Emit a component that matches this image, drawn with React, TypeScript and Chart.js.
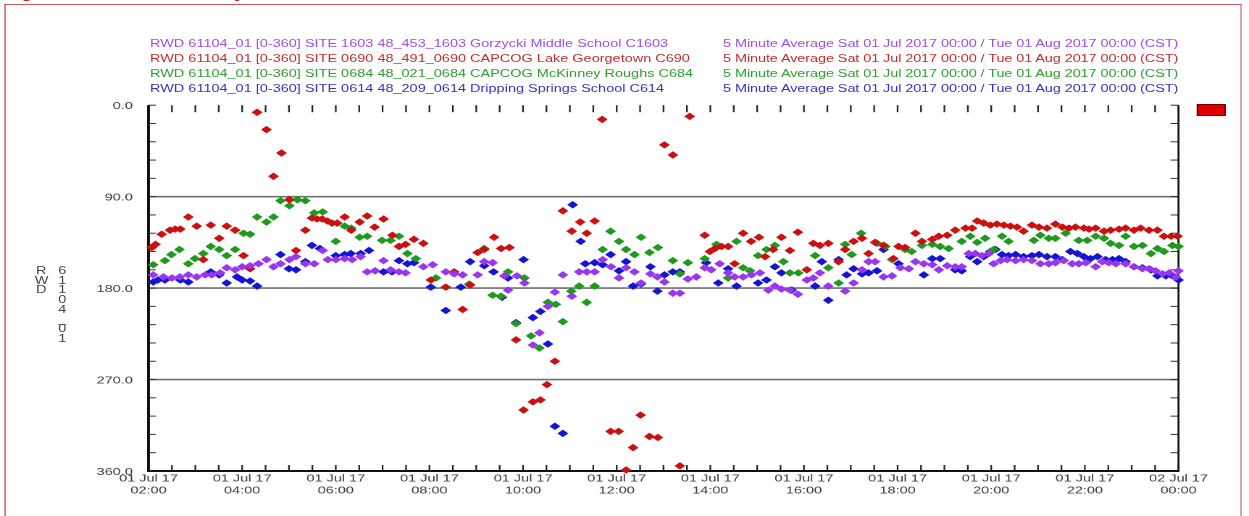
import React, { useEffect, useRef } from 'react';
import { Chart, registerables } from 'chart.js';

Chart.register(...registerables);

// ---------- data ----------
const SERIES_LABELS = [
  'RWD 61104_01 [0-360] SITE 1603 48_453_1603 Gorzycki Middle School C1603',
  'RWD 61104_01 [0-360] SITE 0690 48_491_0690 CAPCOG Lake Georgetown C690',
  'RWD 61104_01 [0-360] SITE 0684 48_021_0684 CAPCOG McKinney Roughs C684',
  'RWD 61104_01 [0-360] SITE 0614 48_209_0614 Dripping Springs School C614',
];
const PERIOD_LABEL = '5 Minute Average Sat 01 Jul 2017 00:00 / Tue 01 Aug 2017 00:00 (CST)';
const SERIES_COLORS = ['#9a35f0', '#cc1010', '#1f9a1f', '#1414d4'];
const TEXT_COLORS = ['#a050e0', '#c03030', '#30a030', '#3535c0'];
const Y_AXIS_NAME = 'RWD';
const Y_AXIS_ID = '61104_01';
const CAPTION = 'Figure 7: RWD Data Hourly';
const Y_MIN = 0;
const Y_MAX = 360;
const Y_STEP = 90;
const Y_MINOR_STEP = 18;
const GRID_VALUES = [90, 180, 270];
const X_MIN = 2; // hours after 01 Jul 17 00:00
const X_MAX = 24;
const X_STEP = 2;
const X_MINOR_STEP = 0.5;

// [hour, degrees]
const purplePoints: [number, number][] = [
  [2.10,167],[2.32,169],[2.50,170],[2.67,169],[2.85,167],[3.03,169],[3.21,167],[3.35,167],[3.53,165],[3.67,160],
  [3.85,162],[4.00,159],[4.17,158],[4.35,156],[4.52,152],[4.67,159],[4.82,156],[5.01,152],[5.15,149],[5.35,156],
  [5.54,156],[5.72,143],[5.83,152],[6.00,152],[6.19,151],[6.35,152],[6.53,149],[6.67,164],[6.84,163],[7.02,153],
  [7.17,162],[7.35,164],[7.49,165],[7.87,159],[8.07,157],[8.35,164],[8.53,166],[8.71,167],[9.03,167],[9.17,154],
  [9.35,155],[9.60,168],[9.68,182],[9.87,168],[10.03,175],[10.21,236],[10.35,224],[10.53,198],[10.68,184],[10.85,167],[11.04,188],
  [11.20,164],[11.36,164],[11.53,164],[11.70,152],[11.88,159],[12.05,170],[12.20,160],[12.38,164],[12.52,175],[12.72,166],
  [12.87,169],[13.02,174],[13.20,185],[13.35,185],[13.52,171],[13.70,169],[13.88,160],[14.02,162],[14.20,156],[14.38,165],
  [14.52,169],[14.70,169],[14.88,167],[15.06,165],[15.24,182],[15.38,178],[15.52,181],[15.70,182],[15.87,186],[16.06,172],
  [16.20,170],[16.34,165],[16.52,178],[16.88,183],[17.06,175],[17.24,162],[17.38,154],[17.52,154],[17.70,169],[17.88,168],
  [18.06,160],[18.24,161],[18.38,154],[18.56,156],[18.74,157],[18.88,162],[19.06,158],[19.23,159],[19.37,159],[19.52,146],
  [19.66,146],[19.80,148],[19.95,146],[20.05,156],[20.20,153],[20.34,152],[20.52,153],[20.69,152],[20.87,153],[21.05,156],
  [21.23,156],[21.37,155],[21.55,153],[21.73,156],[21.87,156],[22.02,155],[22.23,159],[22.37,154],[22.51,155],[22.66,156],
  [22.87,156],[23.05,159],[23.23,161],[23.37,161],[23.51,163],[23.66,166],[23.80,165],[23.94,169],[24.00,163],
];

const redPoints: [number, number][] = [
  [2.07,140],[2.15,137],[2.28,127],[2.46,123],[2.57,122],[2.68,122],[2.85,110],[3.03,119],[3.17,152],[3.33,118],
  [3.51,131],[3.67,119],[3.85,123],[4.03,148],[4.17,161],[4.32,7],[4.52,24],[4.67,70],[4.84,47],[5.01,93],
  [5.15,143],[5.35,123],[5.49,111],[5.60,112],[5.71,112],[5.82,114],[5.92,116],[6.03,116],[6.19,110],[6.33,123],
  [6.51,115],[6.67,109],[6.83,120],[7.02,112],[7.21,128],[7.35,139],[7.49,137],[7.67,132],[7.87,136],[8.03,172],
  [8.35,179],[8.53,164],[8.71,201],[8.87,177],[9.03,145],[9.17,142],[9.38,130],[9.53,141],[9.71,140],[9.85,231],
  [10.01,300],[10.21,292],[10.37,290],[10.51,275],[10.68,252],[10.85,104],[11.04,124],[11.22,115],[11.36,126],[11.53,114],
  [11.69,14],[11.87,321],[12.04,321],[12.20,359],[12.35,337],[12.51,305],[12.70,326],[12.88,327],[13.02,39],[13.20,49],
  [13.35,355],[13.56,11],[13.88,128],[13.99,144],[14.10,141],[14.24,139],[14.38,139],[14.52,156],[14.70,126],[14.87,134],
  [15.04,130],[15.17,149],[15.34,142],[15.52,130],[15.70,143],[15.87,125],[16.06,162],[16.20,136],[16.34,138],[16.52,136],
  [16.74,154],[16.88,142],[17.06,134],[17.24,131],[17.38,146],[17.52,135],[17.70,138],[17.91,151],[18.02,139],[18.16,140],
  [18.38,126],[18.52,134],[18.74,132],[18.88,129],[19.06,128],[19.23,123],[19.45,121],[19.59,121],[19.70,114],[19.84,116],
  [19.98,118],[20.12,117],[20.27,118],[20.41,119],[20.55,120],[20.69,124],[20.87,118],[21.02,120],[21.19,121],[21.37,117],
  [21.52,120],[21.66,121],[21.80,120],[21.98,121],[22.09,122],[22.23,121],[22.41,124],[22.55,123],[22.73,122],[22.87,121],
  [23.05,123],[23.19,121],[23.37,123],[23.55,123],[23.69,129],[23.84,129],[23.98,129],
];

const greenPoints: [number, number][] = [
  [2.10,157],[2.35,153],[2.49,147],[2.66,142],[2.85,156],[2.99,151],[3.17,146],[3.33,139],[3.51,142],[3.67,148],
  [3.85,142],[4.03,126],[4.17,127],[4.32,110],[4.52,115],[4.67,110],[4.82,94],[5.01,99],[5.18,93],[5.35,94],
  [5.54,106],[5.72,105],[6.00,134],[6.19,119],[6.33,121],[6.51,130],[6.67,129],[6.99,133],[7.17,133],[7.35,129],
  [7.53,146],[7.71,151],[8.14,170],[8.85,176],[9.17,141],[9.35,187],[9.53,188],[9.68,164],[9.85,215],[10.03,170],
  [10.17,227],[10.35,239],[10.53,194],[10.70,196],[10.85,213],[11.03,183],[11.20,178],[11.36,194],[11.53,178],[11.70,142],
  [11.87,124],[12.05,134],[12.20,142],[12.38,147],[12.52,130],[12.70,145],[12.88,140],[13.20,153],[13.35,166],[13.52,155],
  [13.88,151],[14.13,137],[14.38,170],[14.56,134],[14.70,160],[14.85,163],[15.02,148],[15.20,142],[15.38,138],[15.56,154],
  [15.70,165],[15.88,165],[16.24,148],[16.52,160],[16.74,175],[16.88,137],[17.02,147],[17.22,126],[17.56,136],[17.74,139],
  [17.88,152],[18.16,142],[18.30,144],[18.52,138],[18.74,137],[18.91,139],[19.09,141],[19.37,134],[19.55,129],[19.70,135],
  [19.87,131],[20.05,142],[20.23,129],[20.37,134],[20.91,133],[21.05,128],[21.23,131],[21.37,131],[21.59,126],[21.87,133],
  [22.05,133],[22.23,129],[22.41,131],[22.55,136],[22.73,138],[22.87,129],[23.05,139],[23.23,138],[23.41,146],[23.55,141],
  [23.69,144],[23.87,138],[24.00,139],
];

const bluePoints: [number, number][] = [
  [2.10,174],[2.20,172],[2.35,172],[2.68,172],[2.85,174],[3.33,164],[3.51,167],[3.67,175],[3.89,169],[4.00,172],
  [4.17,173],[4.32,178],[4.82,147],[5.00,161],[5.15,162],[5.35,154],[5.49,138],[5.66,141],[6.00,148],[6.19,147],
  [6.32,146],[6.53,146],[6.71,143],[7.02,164],[7.20,164],[7.35,153],[7.53,156],[7.67,155],[8.03,179],[8.35,202],
  [8.67,179],[8.87,154],[9.17,158],[9.37,164],[9.55,189],[9.68,170],[9.85,214],[10.01,152],[10.21,209],[10.37,203],
  [10.53,235],[10.68,316],[10.85,323],[11.06,98],[11.23,134],[11.33,156],[11.53,155],[11.70,157],[11.87,147],[12.05,163],
  [12.20,154],[12.35,178],[12.52,176],[12.72,159],[12.87,183],[13.02,167],[13.20,164],[13.35,164],[13.91,155],[14.17,175],
  [14.38,161],[14.56,178],[15.02,175],[15.20,172],[15.38,159],[15.52,165],[15.74,182],[16.24,178],[16.38,154],[16.52,192],
  [16.74,152],[16.91,167],[17.06,161],[17.24,166],[17.38,165],[17.56,163],[17.70,142],[18.02,156],[18.56,167],[18.74,151],
  [18.91,151],[19.23,162],[19.37,163],[19.55,149],[19.70,154],[19.84,149],[19.98,144],[20.09,142],[20.23,147],[20.37,148],
  [20.52,147],[20.69,149],[20.87,148],[21.02,147],[21.19,149],[21.37,149],[21.52,152],[21.69,144],[21.84,146],[21.98,149],
  [22.12,151],[22.27,149],[22.44,152],[22.59,152],[22.73,151],[22.87,154],[23.05,159],[23.23,160],[23.41,162],[23.55,168],
  [23.73,168],[23.87,168],[24.00,172],
];

const SERIES_POINTS = [purplePoints, redPoints, greenPoints, bluePoints];

// ---------- layout (logical px; whole figure is stretched horizontally) ----------
const FULL_W = 1249;
const FULL_H = 516;
const LOGICAL_W = 862;
const STRETCH = FULL_W / LOGICAL_W;
const AREA_LEFT = 148.5 / STRETCH;
const AREA_RIGHT = 1178.5 / STRETCH;
const AREA_TOP = 105.2;
const AREA_BOTTOM = 471;
const FONT = "'Liberation Sans', Arial, Helvetica, sans-serif";

const two = (n: number) => String(n).padStart(2, '0');

const decoPlugin = {
  id: 'deco',
  beforeDatasetsDraw(chart: any) {
    const { ctx, chartArea: a, scales } = chart;
    const x = scales.x;
    const y = scales.y;
    const line = (x1: number, y1: number, x2: number, y2: number) => {
      ctx.beginPath();
      ctx.moveTo(x1, y1);
      ctx.lineTo(x2, y2);
      ctx.stroke();
    };
    ctx.save();
    // horizontal grid lines
    ctx.strokeStyle = '#6f6f6f';
    ctx.lineWidth = 1.6;
    for (const v of GRID_VALUES) {
      const py = y.getPixelForValue(v);
      line(a.left, py, a.right, py);
    }
    // minor y ticks (inside, both sides)
    ctx.strokeStyle = '#333';
    ctx.lineWidth = 1;
    for (let v = Y_MIN; v <= Y_MAX; v += Y_MINOR_STEP) {
      const py = y.getPixelForValue(v);
      line(a.left, py, a.left + 5, py);
      line(a.right - 5.5, py, a.right, py);
    }
    // x ticks every half hour, top and bottom
    ctx.strokeStyle = '#222';
    ctx.lineWidth = 1.15;
    for (let t = X_MIN; t <= X_MAX + 1e-6; t += X_MINOR_STEP) {
      const px = x.getPixelForValue(t);
      line(px, a.bottom, px, a.bottom - 6);
      line(px, a.top, px, a.top + 7);
    }
    // axis lines
    ctx.strokeStyle = '#111';
    ctx.lineWidth = 2;
    line(a.left, a.top, a.left, a.bottom + 1);
    line(a.left, a.bottom, a.right, a.bottom);
    ctx.lineWidth = 1.4;
    line(a.right, a.top, a.right, a.bottom + 1);
    ctx.restore();
  },
};

export default function App() {
  const canvasRef = useRef<HTMLCanvasElement | null>(null);

  useEffect(() => {
    const canvas = canvasRef.current;
    if (!canvas) return;
    const chart = new Chart(canvas, {
      type: 'scatter',
      data: {
        datasets: SERIES_POINTS.map((pts, i) => ({
          label: SERIES_LABELS[i],
          data: pts.map(([t, v]) => ({ x: t, y: v })),
          backgroundColor: SERIES_COLORS[i],
          borderColor: SERIES_COLORS[i],
          borderWidth: 0.8,
          pointStyle: 'rectRot',
          pointRadius: 3.2,
          showLine: false,
          clip: false as any,
        })),
      },
      options: {
        animation: false,
        responsive: false,
        maintainAspectRatio: false,
        devicePixelRatio: 2,
        events: [],
        layout: {
          padding: { left: 0, top: AREA_TOP, right: LOGICAL_W - AREA_RIGHT, bottom: 0 },
        },
        plugins: {
          legend: { display: false },
          tooltip: { enabled: false },
          title: { display: false },
        },
        scales: {
          x: {
            type: 'linear',
            position: 'bottom',
            min: X_MIN,
            max: X_MAX,
            grid: { display: false, drawTicks: false },
            border: { display: false },
            afterFit: (s: any) => {
              s.height = FULL_H - AREA_BOTTOM;
            },
            ticks: {
              stepSize: X_STEP,
              autoSkip: false,
              maxRotation: 0,
              minRotation: 0,
              padding: 1.5,
              color: '#3a3a3a',
              font: { family: FONT, size: 10, lineHeight: 1.2 },
              callback: (v: any) => {
                const h = Number(v);
                return [h >= 24 ? '02 Jul 17' : '01 Jul 17', `${two(h % 24)}:00`];
              },
            },
          },
          y: {
            type: 'linear',
            position: 'left',
            min: Y_MIN,
            max: Y_MAX,
            reverse: true,
            grid: { display: false, drawTicks: false },
            border: { display: false },
            afterFit: (s: any) => {
              s.width = AREA_LEFT;
            },
            ticks: {
              stepSize: Y_STEP,
              padding: 10.8,
              labelOffset: 1,
              color: '#3a3a3a',
              font: { family: FONT, size: 10 },
              callback: (v: any) => Number(v).toFixed(1),
            },
          },
        },
      },
      plugins: [decoPlugin],
    });
    return () => chart.destroy();
  }, []);

  const legendLine = (
    text: string,
    color: string,
    top: number,
    left: number,
    key: string,
    spacing: number,
  ) => (
    <div
      key={key}
      style={{
        position: 'absolute',
        left,
        top,
        color,
        fontFamily: FONT,
        fontSize: 10,
        lineHeight: '12px',
        letterSpacing: spacing,
        whiteSpace: 'nowrap',
      }}
    >
      {text}
    </div>
  );

  return (
    <div
      style={{
        position: 'fixed',
        left: 0,
        top: 0,
        width: FULL_W,
        height: FULL_H,
        overflow: 'hidden',
        background: '#ffffff',
      }}
    >
      <div
        style={{
          position: 'absolute',
          left: 0,
          top: 0,
          width: LOGICAL_W,
          height: FULL_H,
          transform: `scaleX(${STRETCH})`,
          transformOrigin: '0 0',
        }}
      >
        {/* caption (cut by the top edge) */}
        <div
          style={{
            position: 'absolute',
            left: 3,
            top: -13.5,
            fontFamily: FONT,
            fontWeight: 'bold',
            fontSize: 13,
            lineHeight: '13px',
            color: '#b01a34',
            whiteSpace: 'nowrap',
          }}
        >
          {CAPTION}
        </div>
        {/* frame */}
        <div
          style={{
            position: 'absolute',
            left: 3.4,
            top: 3.5,
            width: 854,
            height: 540,
            borderTop: '1.5px solid #c85a5a',
            borderLeft: '1px solid #c85a5a',
            borderRight: '1px solid #d08080',
            boxSizing: 'border-box',
          }}
        />
        <canvas
          ref={canvasRef}
          width={LOGICAL_W}
          height={FULL_H}
          style={{ position: 'absolute', left: 0, top: 0 }}
        />
        {/* legend */}
        {SERIES_LABELS.map((t, i) => legendLine(t, TEXT_COLORS[i], 38 + i * 15, 103.5, 'l' + i, 0))}
        {SERIES_LABELS.map((_, i) =>
          legendLine(PERIOD_LABEL, TEXT_COLORS[i], 38 + i * 15, 499, 'r' + i, -0.07),
        )}
        {/* red marker box at top right */}
        <div
          style={{
            position: 'absolute',
            left: 826,
            top: 104,
            width: 20,
            height: 12,
            background: '#e00000',
            border: '1px solid #700000',
            boxSizing: 'border-box',
          }}
        />
        {/* vertical axis title */}
        <div
          style={{
            position: 'absolute',
            left: 24,
            top: 266,
            width: 9,
            textAlign: 'center',
            fontFamily: FONT,
            fontSize: 10,
            lineHeight: '9.7px',
            color: '#444',
            whiteSpace: 'pre',
          }}
        >
          {Y_AXIS_NAME.split('').join('\n')}
        </div>
        <div
          style={{
            position: 'absolute',
            left: 38.5,
            top: 266,
            width: 9,
            textAlign: 'center',
            fontFamily: FONT,
            fontSize: 10,
            lineHeight: '9.7px',
            color: '#444',
            whiteSpace: 'pre',
          }}
        >
          {Y_AXIS_ID.split('').join('\n')}
        </div>
      </div>
    </div>
  );
}
